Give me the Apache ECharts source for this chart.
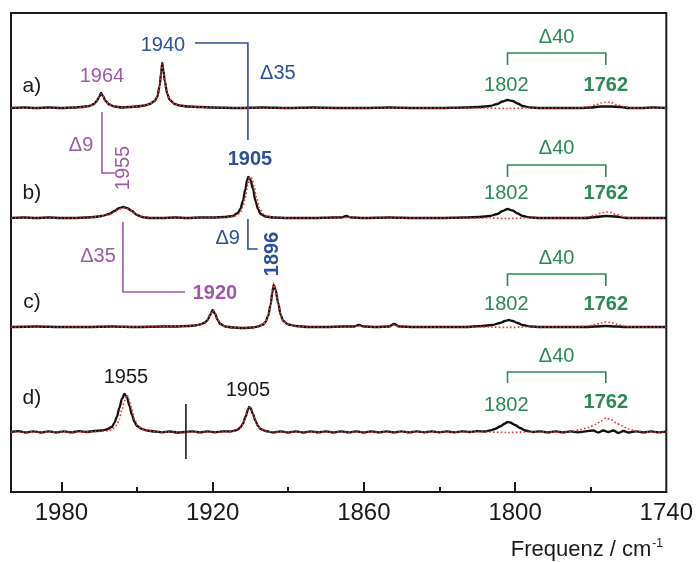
<!DOCTYPE html>
<html>
<head>
<meta charset="utf-8">
<script src="https://cdn.jsdelivr.net/npm/echarts@6.0.0/dist/echarts.min.js"></script>
<style>
html,body{margin:0;padding:0;background:#fff;}
#chart{width:696px;height:562px;}
</style>
</head>
<body>
<div id="chart"></div>
<script>
// ---------- DATA ----------
const traceNames = ['a)', 'b)', 'c)', 'd)'];
const traceOffsets = [384, 274, 165, 60];
const tickLabels = [1980, 1920, 1860, 1800, 1740];
const majorTicks = [1980, 1920, 1860, 1800];
const minorTicks = [1950, 1890, 1830, 1770];

const blackA = [[2000,0],[1995,0.5],[1990,0],[1985,0.5],[1980,0],[1975,0.5],[1972,1],[1969,2],[1967,4],[1966,7],[1965,11],[1964.3,15],[1963.5,12],[1962.5,7],[1961,3.5],[1959,1.5],[1956,0.5],[1953,1],[1950,1.5],[1947,2.5],[1945,4],[1943,7],[1942,11],[1941,22],[1940.5,34],[1940,45],[1939.5,37],[1939,27],[1938,14],[1937,8],[1935,4],[1933,2.5],[1930,1.5],[1925,1],[1920,0.5],[1910,0],[1900,0.5],[1890,0],[1880,0.5],[1870,0],[1860,0],[1850,0.5],[1840,0],[1830,0],[1820,0.5],[1814,1],[1810,2],[1807,4],[1805,6.5],[1803,8],[1801,7],[1799,4.5],[1797,2],[1794,0.5],[1790,0],[1780,0],[1774,0],[1770,0.5],[1766,1.5],[1762,1.5],[1758,1],[1755,0],[1750,0],[1745,0.5],[1740,0]];
const redA = [[2000,0],[1990,0],[1980,0],[1975,0.5],[1972,1],[1969,2],[1967,4],[1966,7],[1965,11],[1964.3,14],[1963.5,12],[1962.5,7],[1961,3.5],[1959,1.5],[1956,0.5],[1953,1],[1950,1.5],[1947,2.5],[1945,4],[1943,7],[1942,11],[1941,22],[1940.5,34],[1940,44],[1939.5,37],[1939,27],[1938,14],[1937,8],[1935,4],[1933,2.5],[1930,1.5],[1925,1],[1920,0.5],[1900,0],[1860,0],[1820,0],[1812,0],[1803,-0.5],[1795,0],[1775,0],[1771,1],[1768,3],[1766,5],[1764,6],[1762,5.5],[1760,3.5],[1757,1.5],[1754,0],[1740,0]];

const blackB = [[2000,0],[1995,0.5],[1990,0],[1985,0.5],[1980,0],[1975,0],[1970,0.5],[1967,1],[1964,2],[1961,4],[1959,7],[1957,10],[1955.5,11],[1954,10],[1952,7],[1950,3],[1948,1],[1945,0],[1940,0],[1935,0.5],[1930,0],[1925,0.5],[1920,0.5],[1915,1],[1912,2],[1910,5],[1909,9],[1908,17],[1907,29],[1906.3,38],[1905.8,41],[1905,38],[1904,29],[1903,17],[1902,9],[1901,4],[1899,1.5],[1896,0.5],[1890,0],[1880,0],[1872,0.5],[1869,0.5],[1867,2],[1865,0.5],[1860,0],[1850,0.5],[1840,0],[1830,0],[1820,0.5],[1814,1],[1810,2],[1807,4],[1805,7],[1803,9],[1801,7.5],[1799,4.5],[1797,2],[1794,0.5],[1790,0],[1780,0],[1772,0],[1768,1],[1764,2],[1760,1.5],[1756,0],[1750,0],[1740,0]];
const redB = [[2000,0],[1990,0],[1980,0],[1970,0],[1967,1],[1964,2],[1961,3.5],[1959,6],[1957,9],[1955.5,10],[1954,9.5],[1952,7],[1950,3.5],[1948,1.5],[1945,0],[1930,0],[1920,0.5],[1915,0.5],[1911,2],[1909,5],[1908,11],[1907,21],[1906,33],[1905.3,41],[1904.5,40],[1903.5,31],[1902.5,19],[1901.5,10],[1900,4],[1898,1.5],[1895,0.5],[1890,0],[1868,0],[1866,1],[1864,0],[1820,0],[1810,0],[1803,-0.5],[1796,0],[1775,0],[1771,1],[1768,3],[1766,5],[1764,6],[1762,5.5],[1760,3.5],[1757,1.5],[1754,0],[1740,0]];

const blackC = [[2000,0],[1990,0.5],[1980,0],[1970,0],[1960,0.5],[1950,0],[1940,0.5],[1935,0.5],[1930,1],[1927,1.5],[1925,2.5],[1923,4.5],[1922,7],[1921,12],[1920,17],[1919,13],[1918,7],[1917,3],[1915,0.5],[1912,-0.5],[1908,-1],[1904,-0.5],[1902,0.5],[1900,2.5],[1899,5],[1898,11],[1897,22],[1896.3,35],[1895.8,42],[1895,37],[1894,24],[1893,12],[1892,6],[1890,2.5],[1887,1],[1882,0],[1875,0],[1868,0.5],[1864,0.5],[1862,2],[1860,0.5],[1855,0],[1850,0.5],[1848,3],[1846,0.5],[1840,0],[1830,0],[1820,0],[1813,1],[1809,2],[1806,4],[1804,6],[1802.5,7],[1801,6],[1799,4],[1797,2],[1794,0.5],[1790,0],[1780,0],[1772,0],[1768,0.5],[1764,1],[1760,0.5],[1756,0],[1740,0]];
const redC = [[2000,0],[1980,0],[1960,0],[1940,0.5],[1930,1],[1927,1.5],[1925,2.5],[1923,4.5],[1922,7],[1921,12],[1920,16.5],[1919,13],[1918,7],[1917,3],[1915,0.5],[1912,-0.5],[1908,-1],[1904,-0.5],[1902,0.5],[1900,2.5],[1899,5],[1898,11],[1897,22],[1896.3,36],[1895.8,44],[1895,38],[1894,25],[1893,12.5],[1892,6],[1890,2.5],[1887,1],[1882,0],[1864,0],[1862,1.5],[1860,0],[1850,0],[1848,2],[1846,0],[1820,0],[1810,0],[1803,-0.5],[1796,0],[1775,0],[1771,1],[1768,2.5],[1766,4],[1764,5],[1762,4.5],[1760,3],[1757,1],[1754,0],[1740,0]];

const blackD = [[2000,0],[1997,0.8],[1994,-0.5],[1991,0.7],[1988,-0.5],[1985,0.7],[1982,-0.4],[1979,0.7],[1976,-0.3],[1973,0.8],[1970,0],[1967,1],[1964,1.5],[1962,2.5],[1960,5],[1959,9],[1958,15],[1957,24],[1956,33],[1955,38],[1954,35],[1953,26],[1952,17],[1951,10],[1950,6],[1948,3],[1946,1.5],[1943,0.5],[1940,-0.3],[1937,0.5],[1934,-0.5],[1931,0],[1928,0.6],[1925,-0.4],[1922,0.6],[1919,-0.3],[1916,0.6],[1913,0.5],[1911,1.5],[1910,2.5],[1909,4.5],[1908,8],[1907,15],[1906,22],[1905.5,25],[1905,24],[1904,18],[1903,11],[1902,6],[1901,3],[1899,1],[1896,-0.5],[1893,0.7],[1890,-0.5],[1887,0.7],[1884,-0.5],[1881,0.6],[1878,-0.4],[1875,0.6],[1872,-0.5],[1869,0.6],[1866,-0.4],[1863,0.7],[1860,-0.5],[1857,0.6],[1854,-0.4],[1851,0.6],[1848,-0.4],[1845,0.6],[1842,-0.4],[1839,0.6],[1836,-0.3],[1833,0.6],[1830,-0.3],[1827,0.6],[1824,-0.3],[1821,0.6],[1818,0],[1815,0.8],[1812,0.5],[1810,1.5],[1808,3],[1806,5.5],[1804,8.5],[1803,10],[1802,9.5],[1800,7],[1798,4],[1796,1.5],[1793,0],[1790,0.6],[1787,-0.4],[1784,0.6],[1781,-0.4],[1778,0.6],[1775,-0.3],[1772,0.6],[1769,1.5],[1767,-0.5],[1765,1.5],[1763,0],[1761,1.5],[1759,-1],[1757,1],[1755,-0.5],[1752,0.6],[1749,-0.4],[1746,0.6],[1743,-0.4],[1740,0.3]];
const redD = [[2000,0],[1990,0],[1980,0],[1970,0],[1965,0.5],[1962,1],[1960,2],[1959,4],[1958,7],[1957,13],[1956,22],[1955,31],[1954,37],[1953,32],[1952,22],[1951,13],[1950,7],[1948,3],[1946,1.5],[1943,0.5],[1938,0],[1915,0],[1912,0.5],[1910,2],[1909,4],[1908,7.5],[1907,14],[1906,21],[1905.5,24.5],[1905,24],[1904,18.5],[1903,11.5],[1902,6],[1901,3],[1899,1],[1896,0],[1815,0],[1810,0],[1803,-0.5],[1795,0],[1780,0],[1777,1],[1774,2.5],[1771,4.5],[1768,7.5],[1766,11],[1764,14],[1762,12.5],[1760,9.5],[1758,6.5],[1755,3],[1752,1],[1749,0],[1740,0]];

const blackTraces = [blackA, blackB, blackC, blackD];
const redTraces = [redA, redB, redC, redD];

// annotations in data units [wavenumber, height]
const PURPLE = '#9d5aa6', BLUE = '#2f4f9b', GREEN = '#2a8a55', BLACK = '#1a1a1a';
const traceLabelPos = [[1991.7,406],[1991.7,299],[1991.7,190],[1991.7,94]];
const annotTexts = [
  {t:'1964', p:[1963.9,416], c:PURPLE},
  {t:'1940', p:[1939.7,447], c:BLUE},
  {t:'\u039435', p:[1894.1,419], c:BLUE},
  {t:'\u03949', p:[1972.2,347], c:PURPLE},
  {t:'1955', p:[1955.2,324], c:PURPLE, rot:true},
  {t:'1905', p:[1905.2,333], c:BLUE, b:true},
  {t:'\u03949', p:[1914.0,254], c:BLUE},
  {t:'1896', p:[1896.1,238], c:BLUE, b:true, rot:true},
  {t:'\u039435', p:[1965.5,236], c:PURPLE},
  {t:'1920', p:[1919.1,199], c:PURPLE, b:true},
  {t:'1955', p:[1954.4,115], c:BLACK},
  {t:'1905', p:[1906.0,102], c:BLACK}
];
const annotLines = [
  {c:PURPLE, pts:[[1963.9,380],[1963.9,319],[1958.8,319]]},
  {c:PURPLE, pts:[[1955.6,270],[1955.6,200],[1931,200]]},
  {c:BLUE, pts:[[1927,449],[1906,449],[1906,352]]},
  {c:BLUE, pts:[[1906,273],[1906,243],[1902.1,243]]},
  {c:BLACK, pts:[[1930.6,88],[1930.6,33]]}
];
// green bracket groups: [deltaY, bracketTop, bracketBottom, label1802Y, label1762Y]
const greenGroups = [[455,439,427,407,407],[344,327,315,299,299],[234,218,206,188,188],[136,120,109,87,90]];
const bracketX = [1803, 1764];

// ---------- CHART ----------
const FONT = '"Liberation Sans", Arial, Helvetica, sans-serif';
const chart = echarts.init(document.getElementById('chart'), null, {renderer:'canvas'});
const series = [];
for (let i = 0; i < 4; i++) {
  series.push({
    type:'line', name:traceNames[i]+' black', showSymbol:false, smooth:0.3, smoothMonotone:'x',
    data: blackTraces[i].map(p => [p[0], p[1] + traceOffsets[i]]),
    lineStyle:{color:'#111', width:2.3}, z:2, silent:true
  });
  series.push({
    type:'line', name:traceNames[i]+' red', showSymbol:false, smooth:0.3, smoothMonotone:'x',
    data: redTraces[i].map(p => [p[0], p[1] + traceOffsets[i]]),
    lineStyle:{color:'#e8383d', width:1.7, type:[1.6,2.2]}, z:3, silent:true
  });
}
const axisLineStyle = {color:BLACK, width:2};
chart.setOption({
  animation:false,
  backgroundColor:'#fff',
  grid:{left:11, right:29, top:13, bottom:70, show:true, borderColor:BLACK, borderWidth:2},
  xAxis:[
    {type:'value', min:1740, max:2000, inverse:true, position:'bottom',
     axisLine:{show:true, lineStyle:axisLineStyle},
     axisTick:{show:true, inside:true, length:10, customValues:majorTicks, lineStyle:axisLineStyle},
     axisLabel:{show:true, customValues:tickLabels, fontSize:24, color:BLACK, margin:9, fontFamily:FONT,
       formatter: v => String(v)},
     splitLine:{show:false}},
    {type:'value', min:1740, max:2000, inverse:true, position:'bottom',
     axisLine:{show:false},
     axisTick:{show:true, inside:true, length:5, customValues:minorTicks, lineStyle:axisLineStyle},
     axisLabel:{show:false}, splitLine:{show:false}}
  ],
  yAxis:{type:'value', min:0, max:479, show:false},
  series: series
});

function px(p){ return chart.convertToPixel({seriesIndex:0}, p); }
const g = [];
function addText(t, p, color, bold, rot, size){
  const q = px(p);
  g.push({type:'text', x:q[0], y:q[1], rotation: rot ? Math.PI/2 : 0, z:100,
    style:{text:t, x:0, y:0, fill:color, align:'center', verticalAlign:'middle',
      font:(bold?'bold ':'') + (size||20) + 'px ' + FONT}});
}
function addLine(pts, color){
  g.push({type:'polyline', z:90, shape:{points: pts.map(px)}, style:{stroke:color, lineWidth:1.6, fill:null}});
}
traceNames.forEach((n,i) => addText(n, traceLabelPos[i], BLACK, false, false, 21));
annotTexts.forEach(a => addText(a.t, a.p, a.c, a.b, a.rot));
annotLines.forEach(l => addLine(l.pts, l.c));
greenGroups.forEach(gr => {
  addText('\u039440', [(bracketX[0]+bracketX[1])/2, gr[0]], GREEN, false, false, 20);
  addLine([[bracketX[0],gr[2]],[bracketX[0],gr[1]],[bracketX[1],gr[1]],[bracketX[1],gr[2]]], GREEN);
  addText('1802', [bracketX[0]+0.5, gr[3]], GREEN, false, false, 20);
  addText('1762', [bracketX[1], gr[4]], GREEN, true, false, 20);
});
g.push({type:'text', z:100, x:663, y:550,
  style:{x:0, y:0, align:'right', verticalAlign:'middle',
    text:'{a|Frequenz / cm}{b|-1}',
    rich:{a:{fontSize:22, fontFamily:FONT, fill:BLACK, color:BLACK},
          b:{fontSize:12, fontFamily:FONT, fill:BLACK, color:BLACK, verticalAlign:'top', padding:[0,0,12,1]}}}});
chart.setOption({graphic:g});
</script>
</body>
</html>
